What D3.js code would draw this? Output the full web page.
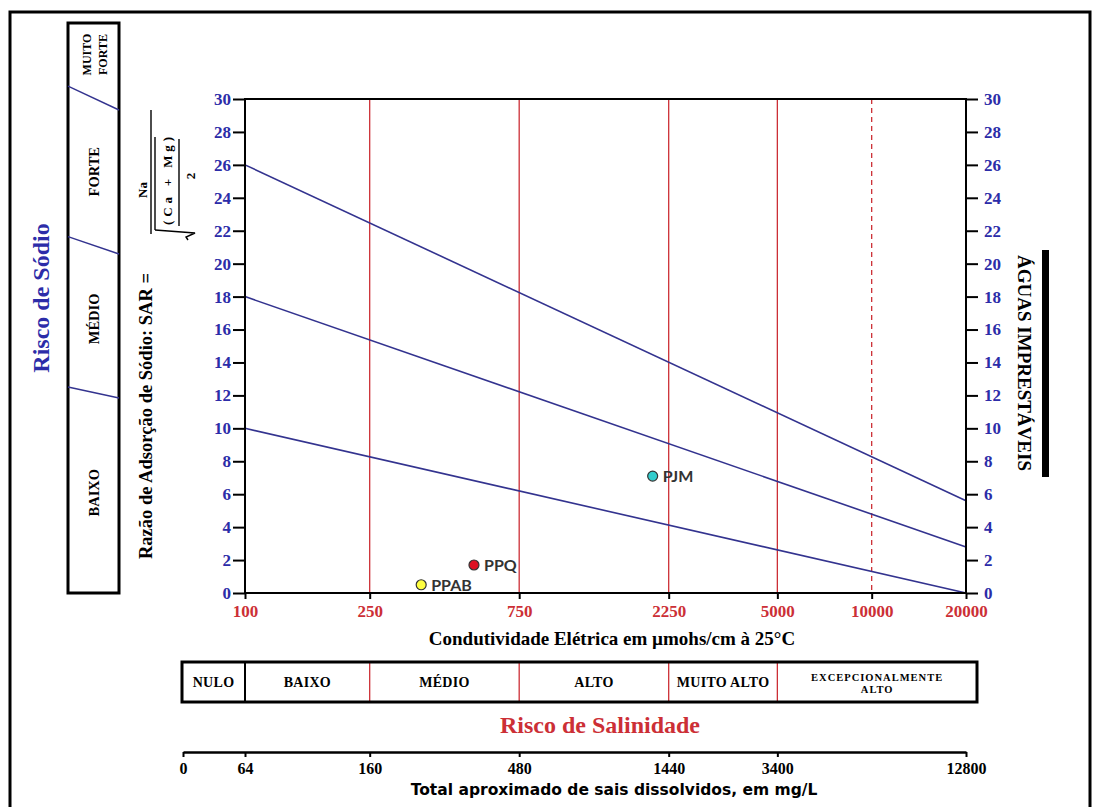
<!DOCTYPE html>
<html>
<head>
<meta charset="utf-8">
<script src="https://cdnjs.cloudflare.com/ajax/libs/d3/7.8.5/d3.min.js"></script>
<style>
    body { margin: 0; background: #fff; }
    svg { display: block; }
</style>
</head>
<body>
<div id="chart"></div>
<script>
'use strict';

// SAR axis (both sides)
var sarTicks = [0, 2, 4, 6, 8, 10, 12, 14, 16, 18, 20, 22, 24, 26, 28, 30];

// electrical conductivity, µmhos/cm
var ecTicks = [100, 250, 750, 2250, 5000, 10000, 20000];
var ecClassLimits = [250, 750, 2250, 5000];
var ecDashed = [10000];

// sodium hazard lines: SAR at 100 and at 20000 µmhos/cm
var hazardStart = [10, 18, 26];
var hazardEnd = [0, 2.8, 5.6];

// water samples
var sampleNames = ['PPAB', 'PPQ', 'PJM'];
var sampleEc = [365, 538, 2000];
var sampleSar = [0.5, 1.7, 7.1];

var salinityClasses = ['NULO', 'BAIXO', 'MÉDIO', 'ALTO', 'MUITO ALTO', 'EXCEPCIONALMENTE ALTO'];
var sodiumClasses = ['BAIXO', 'MÉDIO', 'FORTE', 'MUITO FORTE'];

// total dissolved solids, mg/L, and the conductivity each one sits under
var tdsTicks = [0, 64, 160, 480, 1440, 3400, 12800];
var tdsEc = [null, 100, 250, 750, 2250, 5000, 20000];


var serif = "'Liberation Serif', 'Times New Roman', serif",
    width = 1096,
    height = 807,
    plot = {left: 245, right: 966, top: 99, bottom: 593},
    blue = '#2c2ca8',
    lineBlue = '#33338f',
    red = '#cc2f36',
    svg, x, y;


var boldText = function(sel, size, color){
    return sel.attr('font-family', serif)
        .attr('font-weight', 'bold')
        .attr('font-size', size)
        .attr('fill', color || '#000');
};

var buildScales = function(){
    x = d3.scaleLog().domain([100, 20000]).range([plot.left, plot.right]);
    y = d3.scaleLinear().domain([0, 30]).range([plot.bottom, plot.top]);
};

var buildFrame = function(){
    svg.append('rect')
        .attr('x', 10).attr('y', 12)
        .attr('width', 1080).attr('height', 840)
        .attr('fill', 'none')
        .attr('stroke', '#000')
        .attr('stroke-width', 3);
};

var buildGrid = function(){
    svg.selectAll('.class-line')
        .data(ecClassLimits.concat(ecDashed))
        .enter()
        .append('line')
        .attr('class', 'class-line')
        .attr('x1', function(d){ return x(d); })
        .attr('x2', function(d){ return x(d); })
        .attr('y1', y(30))
        .attr('y2', y(0))
        .attr('stroke', red)
        .attr('stroke-width', 1.3)
        .attr('stroke-dasharray', function(d){
            return ecDashed.indexOf(d) >= 0 ? '5,4' : null;
        });

    svg.selectAll('.hazard')
        .data(hazardStart)
        .enter()
        .append('line')
        .attr('class', 'hazard')
        .attr('x1', x(100))
        .attr('y1', function(d){ return y(d); })
        .attr('x2', x(20000))
        .attr('y2', function(d, i){ return y(hazardEnd[i]); })
        .attr('stroke', lineBlue)
        .attr('stroke-width', 1.6);
};

var buildAxes = function(){
    var left = svg.append('g')
        .attr('transform', 'translate(' + plot.left + ',0)')
        .call(d3.axisLeft(y).tickValues(sarTicks).tickSize(12).tickPadding(2));

    var right = svg.append('g')
        .attr('transform', 'translate(' + plot.right + ',0)')
        .call(d3.axisRight(y).tickValues(sarTicks).tickSize(12).tickPadding(6));

    var bottom = svg.append('g')
        .attr('transform', 'translate(0,' + plot.bottom + ')')
        .call(d3.axisBottom(x).tickValues(ecTicks).tickFormat(d3.format('d')).tickSize(6).tickPadding(6));

    [left, right, bottom].forEach(function(g){
        g.select('.domain').remove();
        g.selectAll('.tick line').attr('stroke', '#000').attr('stroke-width', 2);
    });
    boldText(left.selectAll('text'), 17, blue);
    boldText(right.selectAll('text'), 17, blue);
    boldText(bottom.selectAll('text'), 17, red);

    svg.append('rect')
        .attr('x', plot.left).attr('y', plot.top)
        .attr('width', plot.right - plot.left)
        .attr('height', plot.bottom - plot.top)
        .attr('fill', 'none')
        .attr('stroke', '#000')
        .attr('stroke-width', 2);

    boldText(svg.append('text'), 19)
        .attr('x', 612).attr('y', 645)
        .attr('text-anchor', 'middle')
        .text('Condutividade Elétrica em µmohs/cm à 25°C');

    boldText(svg.append('text'), 18.5)
        .attr('transform', 'translate(152,416) rotate(-90)')
        .attr('text-anchor', 'middle')
        .text('Razão de Adsorção de Sódio: SAR =');
};

// SAR = Na / sqrt((Ca + Mg) / 2), written sideways
var buildFormula = function(){
    var f = svg.append('g').attr('transform', 'translate(151,172) rotate(-90)');
    var stroke = function(sel){
        return sel.attr('stroke', '#000').attr('stroke-width', 1.4).attr('fill', 'none');
    };

    stroke(f.append('line')).attr('x1', -62).attr('x2', 62).attr('y1', 0).attr('y2', 0);
    stroke(f.append('line')).attr('x1', -58).attr('x2', 35).attr('y1', 4).attr('y2', 4);
    stroke(f.append('path')).attr('d', 'M-58,4 L-61,44 L-65,35 L-68,37');
    stroke(f.append('line')).attr('x1', -54).attr('x2', 33).attr('y1', 28).attr('y2', 28);

    boldText(f.append('text'), 13)
        .attr('x', -18).attr('y', -4)
        .attr('text-anchor', 'middle')
        .text('Na');
    boldText(f.append('text'), 13)
        .attr('x', -53).attr('y', 21)
        .attr('textLength', 88)
        .attr('lengthAdjust', 'spacing')
        .text('(Ca + Mg)');
    boldText(f.append('text'), 13)
        .attr('x', -4).attr('y', 44)
        .attr('text-anchor', 'middle')
        .text('2');
};

var buildSamples = function(){
    var color = d3.scaleOrdinal().domain(sampleNames).range(['#ffff40', '#dd1122', '#33cccc']);

    var g = svg.selectAll('.sample')
        .data(sampleNames)
        .enter()
        .append('g')
        .attr('class', 'sample')
        .attr('transform', function(d, i){
            return 'translate(' + x(sampleEc[i]) + ',' + y(sampleSar[i]) + ')';
        });

    g.append('circle')
        .attr('r', 5)
        .attr('fill', function(d){ return color(d); })
        .attr('stroke', '#333')
        .attr('stroke-width', 1.2);

    g.append('text')
        .attr('x', 10)
        .attr('dy', '0.36em')
        .attr('font-family', 'Lato, Carlito, sans-serif')
        .attr('font-weight', 'bold')
        .attr('font-size', 16)
        .attr('fill', '#333')
        .text(function(d){ return d; });
};

var buildSodiumPanel = function(){
    var top = 23, bottom = 593, l = 68, r = 119;
    // the panel squeezes the SAR scale a little, ends of each limit tilt
    var pl = d3.scaleLinear().domain([0, 30]).range([575, 11]);
    var pr = d3.scaleLinear().domain([0, 30]).range([578, 38]);

    svg.append('rect')
        .attr('x', l).attr('y', top)
        .attr('width', r - l).attr('height', bottom - top)
        .attr('fill', 'none')
        .attr('stroke', '#000')
        .attr('stroke-width', 3);

    svg.selectAll('.panel-limit')
        .data(hazardStart)
        .enter()
        .append('line')
        .attr('class', 'panel-limit')
        .attr('x1', l).attr('x2', r)
        .attr('y1', function(d){ return pl(d); })
        .attr('y2', function(d){ return pr(d); })
        .attr('stroke', lineBlue)
        .attr('stroke-width', 1.4);

    var edges = [bottom].concat(hazardStart.map(function(d){ return (pl(d) + pr(d)) / 2; }), [top]);

    sodiumClasses.forEach(function(name, i){
        var cy = (edges[i] + edges[i + 1]) / 2;
        var words = name.split(' ');
        var t = boldText(svg.append('text'), words.length > 1 ? 12 : 14.5)
            .attr('transform', 'translate(' + ((l + r) / 2 + 5) + ',' + (cy - (words.length > 1 ? 6 : 0)) + ') rotate(-90)')
            .attr('text-anchor', 'middle');
        words.forEach(function(w, k){
            t.append('tspan')
                .attr('x', 0)
                .attr('y', (k - (words.length - 1) / 2) * 16)
                .text(w);
        });
    });

    boldText(svg.append('text'), 24, blue)
        .attr('transform', 'translate(49,298) rotate(-90)')
        .attr('text-anchor', 'middle')
        .text('Risco de Sódio');
};

var buildUnfit = function(){
    boldText(svg.append('text'), 19)
        .attr('transform', 'translate(1018,363) rotate(90)')
        .attr('text-anchor', 'middle')
        .text('ÁGUAS IMPRESTÁVEIS');

    svg.append('rect')
        .attr('x', 1042).attr('y', 250)
        .attr('width', 7).attr('height', 227)
        .attr('fill', '#000');
};

var buildSalinityTable = function(){
    var top = 662, bottom = 702;
    var edges = [x(100) - 63, x(100), x(250), x(750), x(2250), x(5000), x(20000) + 11];

    svg.selectAll('.cell-line')
        .data(edges.slice(1, -1))
        .enter()
        .append('line')
        .attr('class', 'cell-line')
        .attr('x1', function(d){ return d; })
        .attr('x2', function(d){ return d; })
        .attr('y1', top).attr('y2', bottom)
        .attr('stroke', function(d, i){ return i === 0 ? '#000' : red; })
        .attr('stroke-width', function(d, i){ return i === 0 ? 2 : 1.3; });

    svg.append('rect')
        .attr('x', edges[0]).attr('y', top)
        .attr('width', edges[6] - edges[0]).attr('height', bottom - top)
        .attr('fill', 'none')
        .attr('stroke', '#000')
        .attr('stroke-width', 3);

    salinityClasses.forEach(function(name, i){
        var cx = (edges[i] + edges[i + 1]) / 2;
        var lines = name.length > 14 ? name.split(' ') : [name];
        lines.forEach(function(w, k){
            boldText(svg.append('text'), lines.length > 1 ? 10.5 : 14)
                .attr('text-anchor', 'middle')
                .attr('letter-spacing', lines.length > 1 ? 1 : 0.3)
                .attr('x', cx)
                .attr('y', (top + bottom) / 2 + 5 + (k - (lines.length - 1) / 2) * 12)
                .text(w);
        });
    });

    boldText(svg.append('text'), 24, red)
        .attr('x', 600).attr('y', 733)
        .attr('text-anchor', 'middle')
        .text('Risco de Salinidade');
};

var buildTdsAxis = function(){
    var range = tdsEc.map(function(d){ return d === null ? x(100) - 62 : x(d); });
    var tds = d3.scaleLinear().domain(tdsTicks).range(range);

    var g = svg.append('g')
        .attr('transform', 'translate(0,752)')
        .call(d3.axisBottom(tds).tickValues(tdsTicks).tickFormat(d3.format('d')).tickSize(5).tickPadding(6).tickSizeOuter(0));

    g.select('.domain').attr('stroke', '#000').attr('stroke-width', 2.5);
    g.selectAll('.tick line').attr('stroke', '#000').attr('stroke-width', 2);
    boldText(g.selectAll('text'), 16);

    svg.append('text')
        .attr('x', 614).attr('y', 795)
        .attr('text-anchor', 'middle')
        .attr('font-family', "'DejaVu Sans', Verdana, sans-serif")
        .attr('font-weight', 'bold')
        .attr('font-size', 15.5)
        .text('Total aproximado de sais dissolvidos, em mg/L');
};


var buildChart = function(){
    svg = d3.select('#chart').append('svg')
        .attr('width', width)
        .attr('height', height);

    buildScales();
    buildFrame();
    buildGrid();
    buildAxes();
    buildFormula();
    buildSamples();
    buildSodiumPanel();
    buildUnfit();
    buildSalinityTable();
    buildTdsAxis();
};
buildChart();
</script>
</body>
</html>
